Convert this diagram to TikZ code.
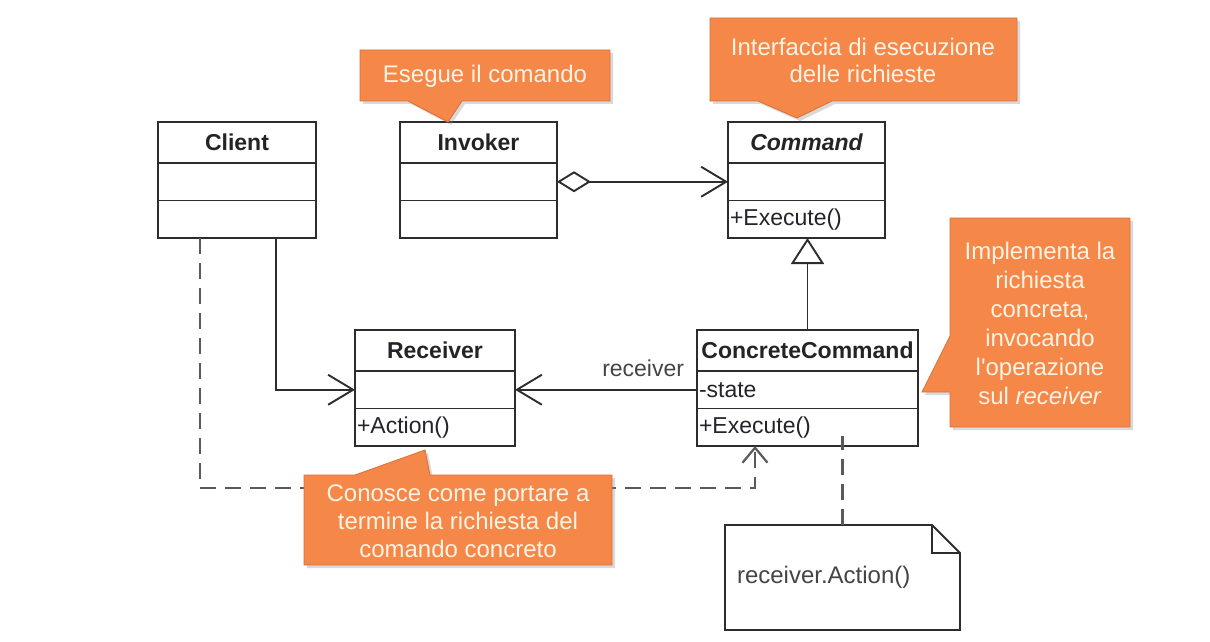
\documentclass[tikz,border=0pt]{standalone}
\usepackage{fontspec}
\setmainfont{Liberation Sans}[Ligatures=TeXOff]
\usetikzlibrary{
	arrows.meta,
	positioning,
	shadows
}
\definecolor{bubblefill}{RGB}{245,135,72}
\definecolor{bubbleedge}{RGB}{220,110,55}
\definecolor{bubbletext}{RGB}{255,243,228}
\definecolor{umlline}{RGB}{45,45,45}
\definecolor{umltext}{RGB}{35,35,40}
\definecolor{depline}{RGB}{90,90,90}
\tikzset{
	classhead/.style={
		draw=umlline, line width=0.95pt,
		minimum width=#1, minimum height=20.5pt,
		inner sep=0pt, outer sep=0pt,
		font=\fontsize{11.5}{13}\selectfont\bfseries, text=umltext
	},
	classrow/.style={
		draw=umlline, line width=0.95pt,
		text width=#1, minimum height=18.75pt,
		inner xsep=1pt, inner ysep=0pt, outer sep=0pt, align=left,
		font=\fontsize{11.5}{13}\selectfont, text=umltext
	},
	notebox/.style={
		text width=105.5pt, minimum height=52.5pt,
		inner xsep=6pt, inner ysep=0pt, outer sep=0pt, align=left,
		font=\fontsize{12}{14}\selectfont, text=umltext!85
	},
	bubble/.style={
		fill=bubblefill, draw=bubbleedge, line width=0.4pt,
		drop shadow={shadow xshift=1.5pt, shadow yshift=-1.5pt, opacity=0.3}
	},
	bubbletxt/.style={
		text=bubbletext, align=center, inner sep=0pt,
		font=\fontsize{12}{14}\selectfont
	},
	aggr/.style={
		draw=umlline, line width=0.95pt,
		{Diamond[open, length=17pt, width=10.5pt]}-{Straight Barb[length=12.5pt, width=15pt]}
	},
	assoc/.style={
		draw=umlline, line width=0.95pt,
		-{Straight Barb[length=12.5pt, width=15pt]}
	},
	inherit/.style={
		draw=umlline, line width=0.95pt,
		-{Triangle[open, length=13pt, width=16.5pt]}
	},
	dep/.style={
		draw=depline, line width=1.1pt, dash pattern=on 8pt off 4.5pt,
		-{Straight Barb[length=7.5pt, width=12.5pt]}
	},
	noteline/.style={
		draw=depline, line width=1.1pt, dash pattern=on 8pt off 4.5pt
	}
}
\begin{document}
\begin{tikzpicture}[x=0.5pt, y=-0.5pt, node distance=0pt]
	\useasboundingbox (0,0) rectangle (1210,642);

	% classes
	\node[classhead=79pt]             (client)     at (237,142.5) {Client};
	\node[classrow=77pt, below=of client]   (client-a)   {};
	\node[classrow=77pt, below=of client-a] (client-o)   {};

	\node[classhead=78.5pt]           (invoker)    at (478.5,142.5) {Invoker};
	\node[classrow=76.5pt, below=of invoker]   (invoker-a) {};
	\node[classrow=76.5pt, below=of invoker-a] (invoker-o) {};

	\node[classhead=78.5pt]           (command)    at (806.5,142.5) {\itshape Command};
	\node[classrow=76.5pt, below=of command]   (command-a) {};
	\node[classrow=76.5pt, below=of command-a] (command-o) {+Execute()};

	\node[classhead=80pt]             (receiver)   at (435,350.5) {Receiver};
	\node[classrow=78pt, below=of receiver]   (receiver-a) {};
	\node[classrow=78pt, below=of receiver-a] (receiver-o) {+Action()};

	\node[classhead=110.5pt]          (concrete)   at (807.5,350.5) {ConcreteCommand};
	\node[classrow=108.5pt, below=of concrete]   (concrete-a) {-state};
	\node[classrow=108.5pt, below=of concrete-a] (concrete-o) {+Execute()};

	% note
	\node[notebox] (note) at (842.5,577.5) {receiver.Action()};
	\draw[umlline, line width=0.95pt]
		(note.south west) -- (note.north west) -- ([xshift=-14pt]note.north east)
		-- ([yshift=-14pt]note.north east) -- (note.south east) -- cycle;
	\draw[umlline, line width=0.95pt]
		([xshift=-14pt]note.north east) |- ([yshift=-14pt]note.north east);

	% relations
	\draw[aggr] (invoker-a.east) -- (command-a.west);
	\draw[inherit] (concrete.north) -- (concrete.north |- command-o.south);
	\draw[assoc] (concrete-a.west) --
		node[pos=0, anchor=south east, inner sep=6pt,
			font=\fontsize{11.5}{13}\selectfont, text=umltext!85] (rolename) {receiver}
		(receiver-a.east);
	\draw[assoc] ([xshift=19.5pt]client-o.south) |- (receiver-a.west);
	\draw[dep] ([xshift=-18.5pt]client-o.south) -- ++(0,250) -| ([xshift=-26.25pt]concrete-o.south);
	\draw[noteline] (note.north) -- ([yshift=5pt]note.north |- concrete-o.south);

	% callouts
	\draw[bubble] (360,50) -- (610,50) -- (610,101) -- (462,101) -- (448,122)
		-- (408,101) -- (360,101) -- cycle;
	\node[bubbletxt] (invokertip) at (485,76) {Esegue il comando};

	\draw[bubble] (710,18) -- (1017,18) -- (1017,101) -- (832,101) -- (797,118)
		-- (758,101) -- (710,101) -- cycle;
	\node[bubbletxt, font=\fontsize{12}{13.5}\selectfont] (commandtip) at (863,60)
		{Interfaccia di esecuzione\\delle richieste};

	\draw[bubble] (950,218) -- (1130,218) -- (1130,427) -- (950,427) -- (950,392)
		-- (922,392) -- (950,336) -- cycle;
	\node[bubbletxt, font=\fontsize{12}{14.5}\selectfont] (concretetip) at (1040,323)
		{Implementa la\\richiesta\\concreta,\\invocando\\l'operazione\\sul \textit{receiver}};

	\draw[bubble] (304,475) -- (355,475) -- (425,450) -- (430,475) -- (612,475)
		-- (612,565) -- (304,565) -- cycle;
	\node[bubbletxt] (receivertip) at (458,521)
		{Conosce come portare a\\termine la richiesta del\\comando concreto};
\end{tikzpicture}
\end{document}
